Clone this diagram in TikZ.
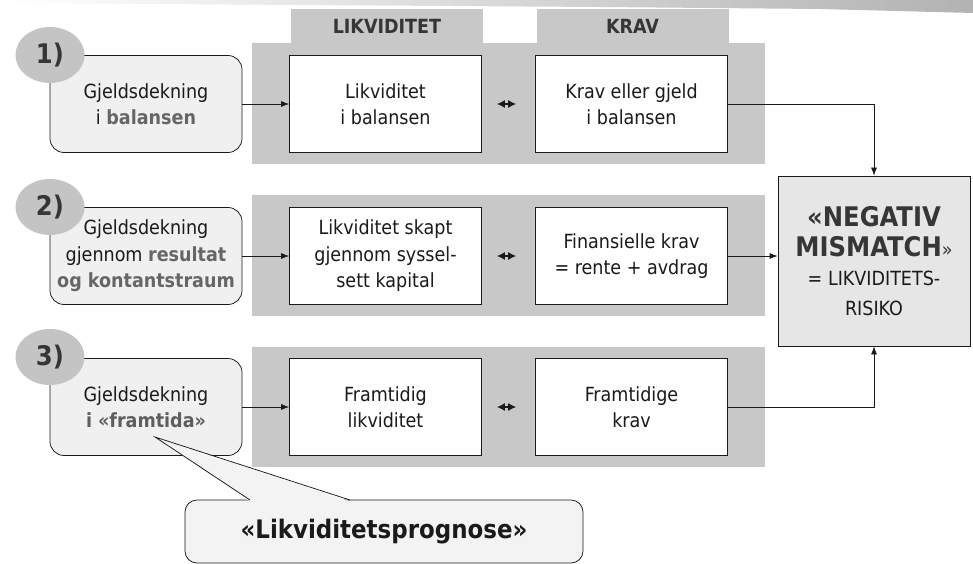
\documentclass[tikz,border=0pt]{standalone}
\usepackage{fontspec}
\setmainfont{DejaVu Sans Condensed}
\usetikzlibrary{arrows.meta,shapes.geometric,calc}
\definecolor{bandgray}{HTML}{C8C8C8}
\definecolor{circgray}{HTML}{C4C4C4}
\definecolor{boxgray}{HTML}{F0F0F0}
\definecolor{riskgray}{HTML}{E6E6E6}
\definecolor{ink}{HTML}{1A1A1A}
\definecolor{darkhead}{HTML}{363636}
\definecolor{midgray}{HTML}{666666}
\tikzset{
  band/.style={fill=bandgray, draw=none},
  head/.style={fill=bandgray, draw=none, minimum width=192pt, minimum height=34pt,
    inner sep=0pt, font=\fontsize{19.5}{22}\selectfont\bfseries, text=darkhead},
  cell/.style={draw=ink, line width=0.75pt, fill=white, minimum width=192pt,
    minimum height=97pt, inner sep=2pt, align=center,
    font=\fontsize{19.5}{26.5}\selectfont, text=ink},
  src/.style={cell, fill=boxgray, rounded corners=14pt},
  num/.style={ellipse, fill=circgray, draw=none, minimum width=69pt, minimum height=56pt,
    inner sep=0pt, font=\fontsize{27}{30}\selectfont\bfseries, text=darkhead},
  risk/.style={draw=ink, line width=0.75pt, fill=riskgray, minimum width=192pt,
    minimum height=170pt, align=center, inner sep=2pt, text=ink,
    font=\fontsize{19.5}{29.5}\selectfont},
  arr/.style={draw=ink, line width=0.75pt, -{Latex[length=8pt,width=6pt]}},
  dbl/.style={draw=ink, line width=1.2pt,
    {Latex[length=8pt,width=8pt]}-{Latex[length=8pt,width=8pt]}},
}
\newcommand\riskhead[1]{{\fontsize{27}{30}\selectfont\bfseries\color{darkhead}#1}}
\begin{document}
\begin{tikzpicture}[x=1pt,y=-1pt]
\useasboundingbox (0,0) rectangle (973,564);
% brush stroke along the top edge
\shade[left color=white, right color=gray!60]
  (0,0) -- (973,0) -- (973,13) -- (820,9) -- (600,7) -- (300,5) -- (0,3) -- cycle;

% column headers
\node[head] (hliq) at (387,26) {LIKVIDITET};
\node[head] (hkrav) at (632.5,26) {KRAV};

% grey row bands
\fill[band] (252,43) rectangle (765,164);
\fill[band] (252,195) rectangle (765,316);
\fill[band] (252,347) rectangle (765,467);

% row 1
\node[src] (s1) at (146,104) {Gjeldsdekning\\i {\color{midgray}\bfseries balansen}};
\node[num] (n1) at (50,55) {1)};
\node[cell] (a1) at (385.5,104) {Likviditet\\i balansen};
\node[cell] (b1) at (631.5,104) {Krav eller gjeld\\i balansen};

% row 2
\node[src] (s2) at (146,256) {Gjeldsdekning\\gjennom {\color{midgray}\bfseries resultat}\\{\color{midgray}\bfseries og kontantstraum}};
\node[num] (n2) at (50,207) {2)};
\node[cell] (a2) at (385.5,256) {Likviditet skapt\\gjennom syssel-\\sett kapital};
\node[cell] (b2) at (631.5,256) {Finansielle krav\\= rente + avdrag};

% row 3
\node[src] (s3) at (146,407) {Gjeldsdekning\\{\color{darkhead!80}\bfseries i «framtida»}};
\node[num] (n3) at (50,357) {3)};
\node[cell] (a3) at (385.5,407) {Framtidig\\likviditet};
\node[cell] (b3) at (631.5,407) {Framtidige\\krav};

% result box
\node[risk] (risk) at (874,261) {%
  \riskhead{«NEGATIV}\\
  \riskhead{MISMATCH}{\color{darkhead}»}\\
  = LIKVIDITETS-\\
  RISIKO};

% connectors
\foreach \r in {1,2,3}{
  \draw[arr] (s\r.east) -- (a\r.west);
  \draw[dbl, shorten <=15pt, shorten >=19pt] (a\r.east) -- (b\r.east -| b\r.west);
}
\draw[arr] (b1.east) -| (risk.north);
\draw[arr] (b2.east) -- (b2.east -| risk.west);
\draw[arr] (b3.east) -| (risk.south);

% callout
\coordinate (tip) at (155,437);
\node[draw=ink, line width=0.75pt, fill=boxgray!80!white, rounded corners=12pt,
  minimum width=398pt, minimum height=63pt, inner sep=0pt,
  font=\fontsize{25.5}{28}\selectfont\bfseries, text=ink] (prog) at (384,531.5) {«Likviditetsprognose»};
\fill[boxgray!80!white] (tip) -- (250,501.5) -- (350,501.5) -- cycle;
\draw[ink, line width=0.75pt] (250,500) -- (tip) -- (350,500);
\end{tikzpicture}
\end{document}
